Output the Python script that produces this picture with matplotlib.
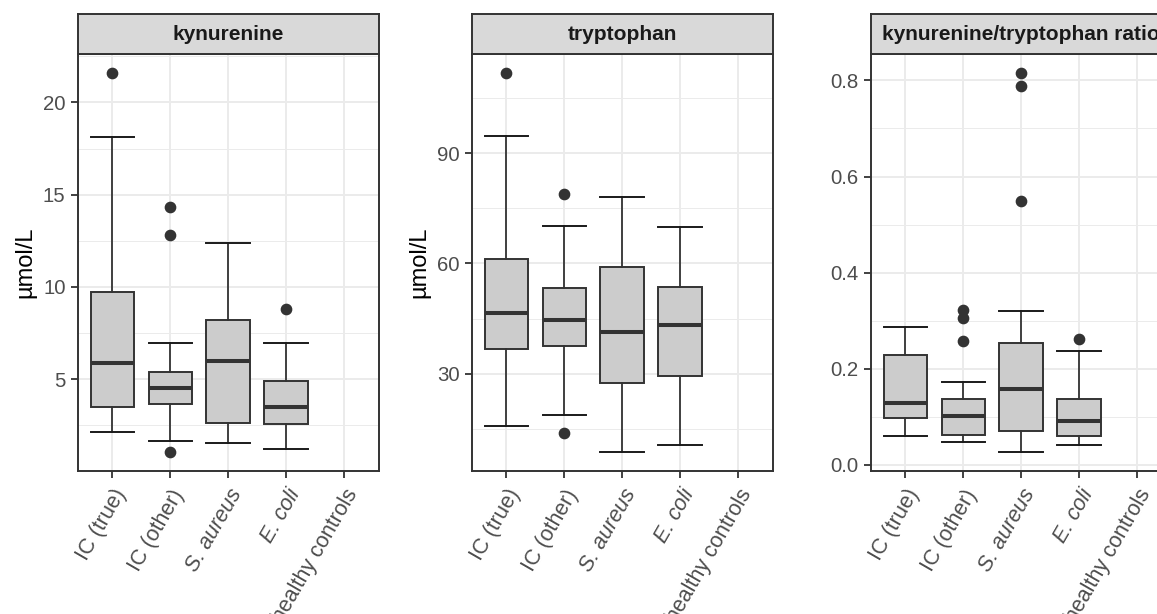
import numpy as np
import matplotlib
matplotlib.use("Agg")
import matplotlib.pyplot as plt

plt.rcParams['font.family'] = ['Liberation Sans', 'DejaVu Sans']

#########################################
################ Data ###################
#########################################
groups = ['IC (true)', 'IC (other)', 'S. aureus', 'E. coli', 'healthy controls']
italic_groups = ['S. aureus', 'E. coli']
panel_titles = ['kynurenine', 'tryptophan', 'kynurenine/tryptophan ratio']

# per group: [whislo, q1, med, q3, whishi]  (healthy controls has no data)
kyn_stats = [[2.14, 3.49, 5.87, 9.71, 18.12],
             [1.66, 3.65, 4.55, 5.38, 6.95],
             [1.54, 2.62, 6.01, 8.21, 12.38],
             [1.23, 2.59, 3.52, 4.91, 6.95]]
kyn_fliers = [[21.57], [14.33, 12.83, 1.07], [], [8.83]]

trp_stats = [[15.9, 36.8, 46.5, 61.3, 94.7],
             [18.7, 37.5, 44.5, 53.2, 70.3],
             [8.7, 27.4, 41.3, 59.0, 78.0],
             [10.7, 29.5, 43.3, 53.6, 69.9]]
trp_fliers = [[111.7], [79.0, 13.8], [], []]

ratio_stats = [[0.060, 0.098, 0.128, 0.228, 0.287],
               [0.048, 0.062, 0.101, 0.137, 0.173],
               [0.026, 0.070, 0.159, 0.253, 0.320],
               [0.041, 0.060, 0.091, 0.138, 0.238]]
ratio_fliers = [[], [0.323, 0.305, 0.257], [0.815, 0.789, 0.549], [0.261]]

yticks = [[5, 10, 15, 20], [30, 60, 90], [0.0, 0.2, 0.4, 0.6, 0.8]]
yticklabels = [['5', '10', '15', '20'], ['30', '60', '90'],
               ['0.0', '0.2', '0.4', '0.6', '0.8']]
yminor = [[2.5, 7.5, 12.5, 17.5, 22.5], [15, 45, 75, 105], [0.1, 0.3, 0.5, 0.7]]
ylims = [(0.05, 22.62), (3.6, 117.0), (-0.012, 0.855)]
ylabels = ['µmol/L', 'µmol/L', None]

#########################################
################ Layout #################
#########################################
W, H = 1157, 614
panel_left = [77.7, 471.7, 870.7]
panel_w = 301.0
panel_top, panel_bot = 54.0, 470.7
strip_top = 14.3

dark = '#333333'
boxfill = '#CCCCCC'
gridc = '#EBEBEB'

fig = plt.figure(figsize=(W / 100, H / 100), dpi=100)
fig.patch.set_facecolor('white')


def px_rect(x0, y0, x1, y1):
    # pixel box (top-left origin) -> figure fraction
    return [x0 / W, 1 - y1 / H, (x1 - x0) / W, (y1 - y0) / H]


all_stats = [kyn_stats, trp_stats, ratio_stats]
all_fliers = [kyn_fliers, trp_fliers, ratio_fliers]

for i in range(3):
    x0 = panel_left[i]
    ax = fig.add_axes(px_rect(x0, panel_top, x0 + panel_w, panel_bot))
    ax.set_facecolor('white')

    bstats = []
    for s, f in zip(all_stats[i], all_fliers[i]):
        bstats.append(dict(whislo=s[0], q1=s[1], med=s[2], q3=s[3],
                           whishi=s[4], fliers=f))
    pos = np.arange(1, len(bstats) + 1)
    ax.bxp(bstats, positions=pos, widths=0.75, capwidths=0.75,
           patch_artist=True, showfliers=True,
           boxprops=dict(facecolor=boxfill, edgecolor=dark, linewidth=1.4),
           medianprops=dict(color=dark, linewidth=2.9, solid_capstyle='butt'),
           whiskerprops=dict(color=dark, linewidth=1.3),
           capprops=dict(color='#1a1a1a', linewidth=1.4),
           flierprops=dict(marker='o', markerfacecolor=dark,
                           markeredgecolor=dark, markersize=7.4),
           zorder=3)

    ax.set_xlim(0.4, len(groups) + 0.6)
    ax.set_ylim(*ylims[i])
    ax.set_xticks(np.arange(1, len(groups) + 1))
    ax.set_xticklabels(groups, rotation=60, ha='right', va='top',
                       rotation_mode='anchor', fontsize=15.5, color='#4D4D4D')
    for lab in ax.get_xticklabels():
        if lab.get_text() in italic_groups:
            lab.set_style('italic')
    ax.set_yticks(yticks[i])
    ax.set_yticklabels(yticklabels[i], fontsize=14.7, color='#4D4D4D')
    ax.set_yticks(yminor[i], minor=True)
    ax.tick_params(axis='both', which='major', length=4.7, width=1.3,
                   color=dark, pad=4)
    ax.tick_params(axis='x', which='major', pad=6)
    ax.tick_params(axis='y', which='minor', length=0)

    ax.grid(True, which='major', color=gridc, linewidth=1.4, zorder=0)
    ax.grid(True, which='minor', axis='y', color=gridc, linewidth=0.7, zorder=0)
    ax.set_axisbelow(True)
    for sp in ax.spines.values():
        sp.set_color(dark)
        sp.set_linewidth(1.4)

    if ylabels[i]:
        ax.set_ylabel(ylabels[i], fontsize=17, color='black', labelpad=5)

    # facet strip
    sax = fig.add_axes(px_rect(x0, strip_top, x0 + panel_w, panel_top))
    sax.set_facecolor('#D9D9D9')
    sax.set_xticks([])
    sax.set_yticks([])
    for sp in sax.spines.values():
        sp.set_color(dark)
        sp.set_linewidth(1.4)
    sax.text(0.5, 0.5, panel_titles[i], transform=sax.transAxes,
             ha='center', va='center', fontsize=15, fontweight='bold',
             color='#1A1A1A')

fig.savefig('out.png', dpi=100, facecolor='white')
